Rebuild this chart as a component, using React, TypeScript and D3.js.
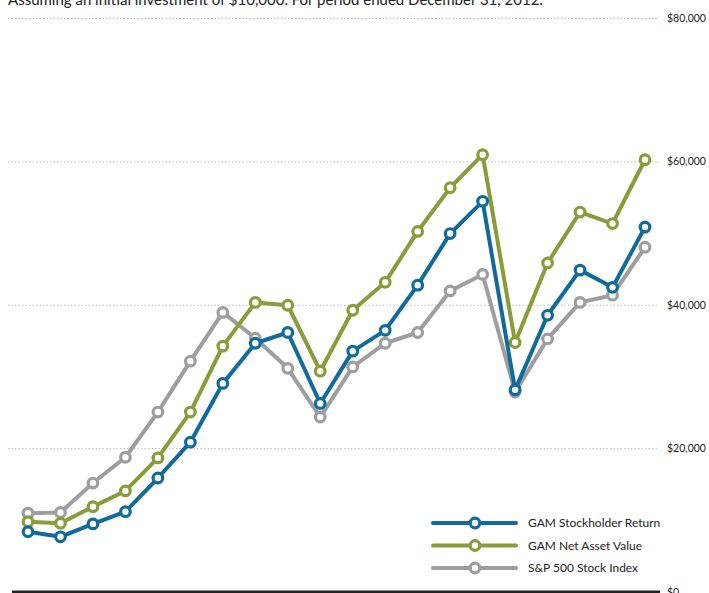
import React, { useEffect, useRef } from "react";
import * as d3 from "d3";

const years = d3.range(1993, 2013);
const stockholder = [8.4, 7.7, 9.5, 11.2, 15.9, 20.9, 29.1, 34.7, 36.2, 26.3, 33.6, 36.5, 42.8, 50.0, 54.5, 28.2, 38.6, 44.9, 42.5, 50.9];
const nav = [9.8, 9.6, 11.9, 14.1, 18.7, 25.1, 34.3, 40.4, 40.0, 30.8, 39.3, 43.2, 50.3, 56.4, 61.0, 34.8, 45.9, 53.0, 51.4, 60.3];
const sp500 = [11.0, 11.1, 15.2, 18.8, 25.1, 32.2, 39.0, 35.4, 31.2, 24.4, 31.4, 34.7, 36.2, 42.0, 44.3, 27.9, 35.3, 40.4, 41.4, 48.1];
const yTicks = [0, 20000, 40000, 60000, 80000];
const seriesNames = ["GAM Stockholder Return", "GAM Net Asset Value", "S&P 500 Stock Index"];
const seriesColors = ["#106b9b", "#8a9b3a", "#9e9ea1"];
const title = "Assuming an initial investment of $10,000. For period ended December 31, 2012.";

export default function App() {
  const ref = useRef<SVGSVGElement | null>(null);
  useEffect(() => {
    const svg = d3.select(ref.current);
    svg.selectAll("*").remove();
    const x = d3.scaleLinear().domain([1993, 2012]).range([28, 645]);
    const y = d3.scaleLinear().domain([0, 80000]).range([592, 18.5]);
    const font = "Lato, 'Open Sans', sans-serif";

    svg.append("text").attr("x", 8).attr("y", 5).attr("font-family", font)
      .attr("font-size", 15).attr("fill", "#222").text(title);

    const g = svg.append("g");
    yTicks.filter(t => t > 0).forEach(t => {
      g.append("line").attr("x1", 8).attr("x2", 659).attr("y1", y(t)).attr("y2", y(t))
        .attr("stroke", "#bdbdbd").attr("stroke-width", 1).attr("stroke-dasharray", "1.5,2");
    });
    yTicks.forEach(t => {
      g.append("text").attr("x", 667).attr("y", y(t) + 3.5).attr("font-family", font)
        .attr("font-size", 10.5).attr("fill", "#222").text("$" + d3.format(",")(t));
    });
    g.append("line").attr("x1", 12).attr("x2", 660).attr("y1", y(0)).attr("y2", y(0))
      .attr("stroke", "#222").attr("stroke-width", 3);

    const data = [stockholder, nav, sp500];
    const line = d3.line<number>().x((_, i) => x(years[i])).y(d => y(d * 1000));
    const order = [2, 1, 0];
    order.forEach(si => {
      const s = data[si];
      const sg = svg.append("g");
      sg.append("path").attr("d", line(s) as string).attr("fill", "none")
        .attr("stroke", seriesColors[si]).attr("stroke-width", 4).attr("stroke-linejoin", "round");
      sg.selectAll("circle").data(s).enter().append("circle")
        .attr("cx", (_, i) => x(years[i])).attr("cy", d => y(d * 1000)).attr("r", 4.8)
        .attr("fill", "#fff").attr("stroke", seriesColors[si]).attr("stroke-width", 3.2);
    });

    const lg = svg.append("g");
    seriesNames.forEach((n, i) => {
      const ly = 523 + i * 22.5;
      lg.append("line").attr("x1", 433).attr("x2", 516).attr("y1", ly).attr("y2", ly)
        .attr("stroke", seriesColors[i]).attr("stroke-width", 4).attr("stroke-linecap", "round");
      lg.append("circle").attr("cx", 475).attr("cy", ly).attr("r", 4.8).attr("fill", "#fff")
        .attr("stroke", seriesColors[i]).attr("stroke-width", 3.2);
      lg.append("text").attr("x", 528).attr("y", ly + 4).attr("font-family", font)
        .attr("font-size", 12).attr("fill", "#222").text(n);
    });
  }, []);
  return (
    <svg ref={ref} width={709} height={593} style={{ position: "absolute", left: 0, top: 0, background: "#fff" }} />
  );
}
